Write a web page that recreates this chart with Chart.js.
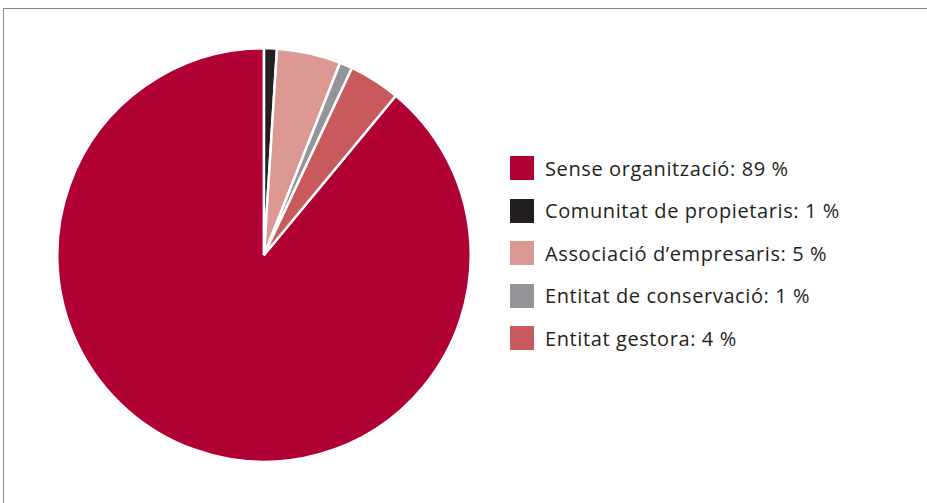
<!DOCTYPE html>
<html>
<head>
<meta charset="utf-8">
<script src="https://cdn.jsdelivr.net/npm/chart.js@4"></script>
<style>
  html, body { margin: 0; padding: 0; background: #fff; }
  body { width: 927px; height: 503px; position: relative; overflow: hidden; }
  #frameTop { position: absolute; left: 3px; top: 8px; width: 924px; height: 0; border-top: 1.5px solid #8a8a8a; }
  #frameLeft { position: absolute; left: 3px; top: 8px; width: 0; height: 495px; border-left: 1.5px solid #8a8a8a; }
  #wrap { position: absolute; left: 56px; top: 46px; width: 416px; height: 418px; }
  #legend { position: absolute; left: 510px; top: 156px; font-family: "Open Sans", "Noto Sans", sans-serif; font-size: 20px; letter-spacing: 0.6px; color: #231f20; }
  .item { display: flex; align-items: center; height: 24px; margin-bottom: 18.5px; white-space: nowrap; }
  .box { width: 24px; height: 24px; margin-right: 11px; flex: none; }
</style>
</head>
<body>
<div id="frameTop"></div>
<div id="frameLeft"></div>
<div id="wrap"><canvas id="c"></canvas></div>
<div id="legend"></div>
<script>
const categories = ["Sense organització", "Comunitat de propietaris", "Associació d’empresaris", "Entitat de conservació", "Entitat gestora"];
const values = [89, 1, 5, 1, 4];
const colors = ["#b10034", "#231f20", "#dc9993", "#939598", "#c85a5d"];

const total = values.reduce((a, b) => a + b, 0);
const rotation = (total - values[0]) / total * 360;

new Chart(document.getElementById('c'), {
  type: 'pie',
  data: {
    labels: categories,
    datasets: [{
      data: values,
      backgroundColor: colors,
      borderColor: '#ffffff',
      borderWidth: 2.5
    }]
  },
  options: {
    responsive: true,
    maintainAspectRatio: false,
    animation: false,
    rotation: rotation,
    layout: { padding: 0 },
    plugins: {
      legend: { display: false },
      tooltip: { enabled: false }
    }
  }
});

const legend = document.getElementById('legend');
categories.forEach((cat, i) => {
  const item = document.createElement('div');
  item.className = 'item';
  const box = document.createElement('div');
  box.className = 'box';
  box.style.background = colors[i];
  const txt = document.createElement('span');
  txt.textContent = cat + ': ' + values[i] + ' %';
  item.appendChild(box);
  item.appendChild(txt);
  legend.appendChild(item);
});
</script>
</body>
</html>
